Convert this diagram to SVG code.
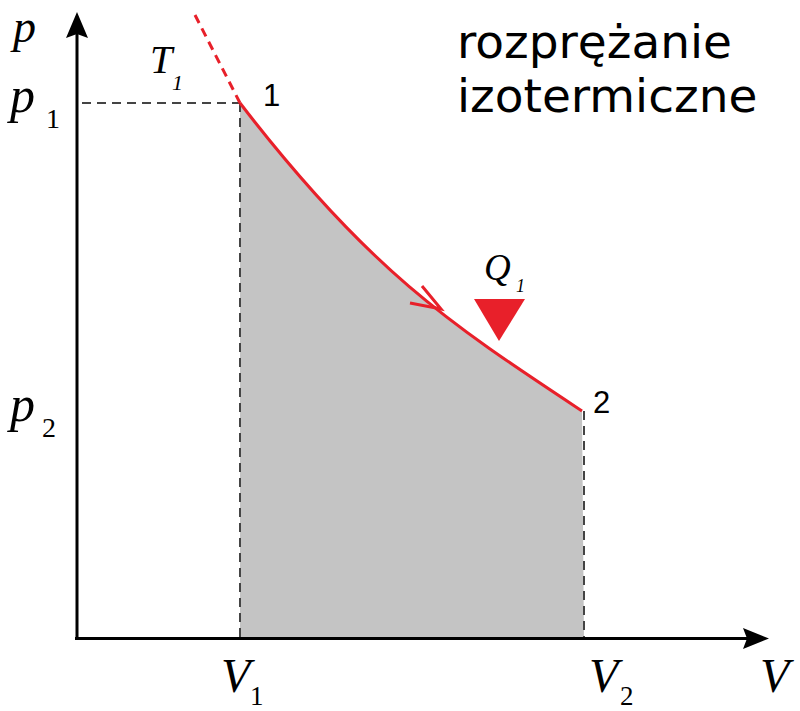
<svg xmlns="http://www.w3.org/2000/svg" width="800" height="711" viewBox="0 0 800 711">
<style>
.axis{stroke:#000;stroke-width:3;fill:none}
.ah{fill:#000}
.dash{stroke:#444;stroke-width:2;stroke-dasharray:9 6;fill:none}
.red{stroke:#e8202a;stroke-width:3;fill:none}
.lbl{font-family:"Liberation Serif",serif;font-style:italic;fill:#000}
.sub{font-family:"Liberation Serif",serif;fill:#000}
.num{font-family:"Liberation Sans",Arial,sans-serif;fill:#000;font-size:31px}
.title{font-family:"DejaVu Sans",Verdana,sans-serif;fill:#000;font-size:47px}
</style>
<rect width="800" height="711" fill="#fff"/>
<g id="area">
<path d="M240,103 C370,272 452,325 582,411 L584,639 L240,639 Z" fill="#c4c4c4"/>
</g>
<g id="connectors">
<path class="dash" d="M82,103 H240"/>
<path class="dash" d="M240,103 V639"/>
<path class="dash" d="M584,411 V639"/>
<path class="red" stroke-dasharray="9 6" d="M195,15 L240,103"/>
<path class="red" d="M240,103 C370,272 452,325 582,411"/>
<path class="red" d="M410,303 L441,309 L422,286"/>
</g>
<g id="axes">
<path class="axis" d="M77,640 V32"/>
<path class="ah" d="M77,12 L88,38 L77,34 L66,38 Z"/>
<path class="axis" d="M75,638.5 H748"/>
<path class="ah" d="M769,638.5 L743,649 L747,638.5 L743,628 Z"/>
</g>
<g id="heat">
<path d="M474,299 L525,299 L499,341 Z" fill="#e8202a"/>
<text class="lbl" x="484" y="280" font-size="37">Q</text>
<text class="lbl" x="516" y="292" font-size="18">1</text>
</g>
<g id="labels">
<text class="lbl" x="13" y="42" font-size="46">p</text>
<text class="lbl" x="10" y="112" font-size="50">p</text>
<text class="sub" x="46" y="128" font-size="28">1</text>
<text class="lbl" x="10" y="421" font-size="50">p</text>
<text class="sub" x="42" y="437" font-size="28">2</text>
<text class="lbl" x="150" y="73" font-size="40">T</text>
<text class="lbl" x="172" y="90" font-size="22">1</text>
<text class="lbl" x="221" y="692" font-size="48">V</text>
<text class="sub" x="250" y="705" font-size="27">1</text>
<text class="lbl" x="589" y="692" font-size="48">V</text>
<text class="sub" x="620" y="705" font-size="27">2</text>
<text class="lbl" x="760" y="692" font-size="48">V</text>
<text class="num" x="263" y="106">1</text>
<text class="num" x="593" y="413">2</text>
</g>
<g id="title">
<text class="title" x="457" y="58">rozprężanie</text>
<text class="title" x="457" y="112">izotermiczne</text>
</g>
</svg>
